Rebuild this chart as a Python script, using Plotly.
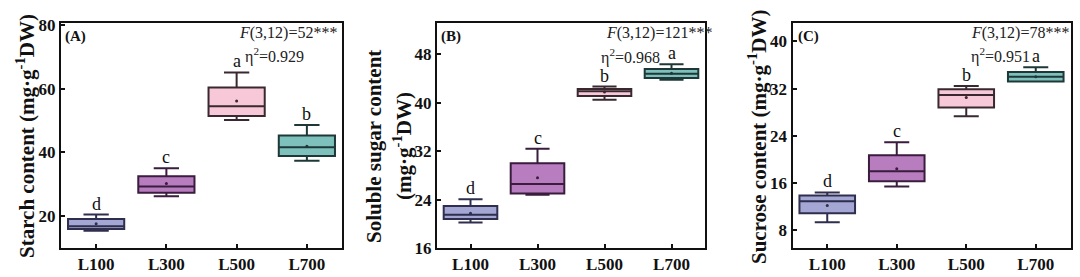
import plotly.graph_objects as go

categories = ["L100", "L300", "L500", "L700"]

# Panel A: starch content
a_upper = [20.5, 35.0, 65.1, 48.6]
a_q3 = [19.1, 32.5, 60.4, 45.3]
a_median = [16.8, 29.3, 54.5, 41.6]
a_q1 = [16.0, 27.3, 51.4, 38.9]
a_lower = [15.4, 26.2, 50.2, 37.4]
a_mean = [17.6, 30.2, 56.1, 41.9]
a_letters = ["d", "c", "a", "b"]

# Panel B: soluble sugar content
b_upper = [24.05, 32.4, 42.7, 46.4]
b_q3 = [22.96, 30.0, 42.3, 45.6]
b_median = [21.5, 26.6, 41.9, 44.8]
b_q1 = [20.8, 25.0, 41.15, 44.1]
b_lower = [20.2, 24.8, 40.5, 43.8]
b_mean = [21.75, 27.6, 41.8, 44.9]
b_letters = ["d", "c", "b", "a"]

# Panel C: sucrose content
c_upper = [14.4, 22.9, 32.45, 35.6]
c_q3 = [13.9, 20.7, 31.9, 34.8]
c_median = [12.9, 18.0, 30.9, 34.0]
c_q1 = [10.9, 16.3, 28.8, 33.2]
c_lower = [9.35, 15.4, 27.3, 33.2]
c_mean = [12.2, 18.4, 30.5, 34.0]
c_letters = ["d", "c", "b", "a"]

fills = ["#A4A7D3", "#B87DBE", "#F7C8D8", "#7EC0BC"]
edges = ["#2E2E4E", "#3A1C3E", "#3A2830", "#1E3838"]

FONT = "Liberation Serif"
W, H = 1080, 277
TOP, BOT = 23, 248


def px_x(p):
    return p / W


def px_y(p):
    return 1 - (p - TOP) / (BOT - TOP)


fig = go.Figure()

panels = [
    ("x", "y", a_upper, a_q3, a_median, a_q1, a_lower, a_mean, a_letters),
    ("x2", "y2", b_upper, b_q3, b_median, b_q1, b_lower, b_mean, b_letters),
    ("x3", "y3", c_upper, c_q3, c_median, c_q1, c_lower, c_mean, c_letters),
]

annotations = []
for xa, ya, up, q3, med, q1, lo, mn, letters in panels:
    for i, cat in enumerate(categories):
        fig.add_trace(go.Box(
            x=[cat], q1=[q1[i]], median=[med[i]], q3=[q3[i]],
            lowerfence=[lo[i]], upperfence=[up[i]],
            fillcolor=fills[i], line=dict(color=edges[i], width=2),
            width=0.8, whiskerwidth=0.45, boxpoints=False,
            xaxis=xa, yaxis=ya, showlegend=False, hoverinfo="skip",
        ))
        fig.add_trace(go.Scatter(
            x=[cat], y=[mn[i]], mode="markers",
            marker=dict(size=3, color=edges[i]),
            xaxis=xa, yaxis=ya, showlegend=False, hoverinfo="skip",
        ))
        annotations.append(dict(
            x=cat, y=up[i], xref=xa, yref=ya, text=letters[i],
            showarrow=False, xanchor="center", yanchor="bottom",
            yshift=-1, font=dict(family=FONT, size=18, color="#111"),
        ))

# Panel labels and statistics
stat_font = dict(family=FONT, size=16, color="#222")
for label, xl, fx, ex, ey, ftxt, etxt in [
    ("(A)", 63, 237, 243, 55, "<i>F</i>(3,12)=52***", "η<sup>2</sup>=0.929"),
    ("(B)", 439, 604, 599, 57, "<i>F</i>(3,12)=121***", "η<sup>2</sup>=0.968"),
    ("(C)", 796, 969, 969, 55, "<i>F</i>(3,12)=78***", "η<sup>2</sup>=0.951"),
]:
    annotations.append(dict(x=px_x(xl), y=px_y(37), xref="paper", yref="paper",
                            text="<b>" + label + "</b>", showarrow=False,
                            xanchor="left", yanchor="middle",
                            font=dict(family=FONT, size=15, color="#111")))
    annotations.append(dict(x=px_x(fx), y=px_y(33), xref="paper", yref="paper",
                            text=ftxt, showarrow=False, xanchor="left",
                            yanchor="middle", font=stat_font))
    annotations.append(dict(x=px_x(ex), y=px_y(ey), xref="paper", yref="paper",
                            text=etxt, showarrow=False, xanchor="left",
                            yanchor="middle", font=stat_font))

# Y-axis titles
title_font = dict(family=FONT, size=21, color="#111")
for xc, yc, txt in [
    (25, 136, "<b>Starch content (mg·g<sup>-1</sup>DW)</b>"),
    (374, 146, "<b>Soluble sugar content</b>"),
    (402, 146, "<b>(mg·g<sup>-1</sup>DW)</b>"),
    (757, 137, "<b>Sucrose content (mg·g<sup>-1</sup>DW)</b>"),
]:
    annotations.append(dict(x=px_x(xc), y=px_y(yc), xref="paper", yref="paper",
                            text=txt, textangle=-90, showarrow=False,
                            xanchor="center", yanchor="middle", font=title_font))

tick_font = dict(family=FONT, size=17, color="#111", weight="bold")
common_x = dict(type="category", categoryorder="array", categoryarray=categories,
                range=[-0.5, 3.5], showline=True, linewidth=2, linecolor="#111",
                mirror=True, ticks="inside", ticklen=4, tickwidth=1.5,
                tickcolor="#111", tickfont=tick_font, showgrid=False,
                zeroline=False, fixedrange=True)
common_y = dict(showline=True, linewidth=2, linecolor="#111", mirror=True,
                ticks="inside", ticklen=4, tickwidth=1.5, tickcolor="#111",
                tickfont=tick_font, showgrid=False, zeroline=False,
                fixedrange=True, domain=[0, 1])

fig.update_layout(
    width=W, height=H,
    margin=dict(l=0, r=0, t=TOP, b=H - BOT),
    paper_bgcolor="white", plot_bgcolor="white",
    boxmode="overlay",
    xaxis=dict(common_x, domain=[px_x(61), px_x(342)], anchor="y"),
    yaxis=dict(common_y, range=[10, 80.6], tickvals=[20, 40, 60, 80], anchor="x"),
    xaxis2=dict(common_x, domain=[px_x(437), px_x(705)], anchor="y2"),
    yaxis2=dict(common_y, range=[16, 53.2], tickvals=[16, 24, 32, 40, 48], anchor="x2"),
    xaxis3=dict(common_x, domain=[px_x(792.5), px_x(1070.5)], anchor="y3"),
    yaxis3=dict(common_y, range=[5, 43.1], tickvals=[8, 16, 24, 32, 40], anchor="x3"),
    annotations=annotations,
)

fig.write_html("out.html")
